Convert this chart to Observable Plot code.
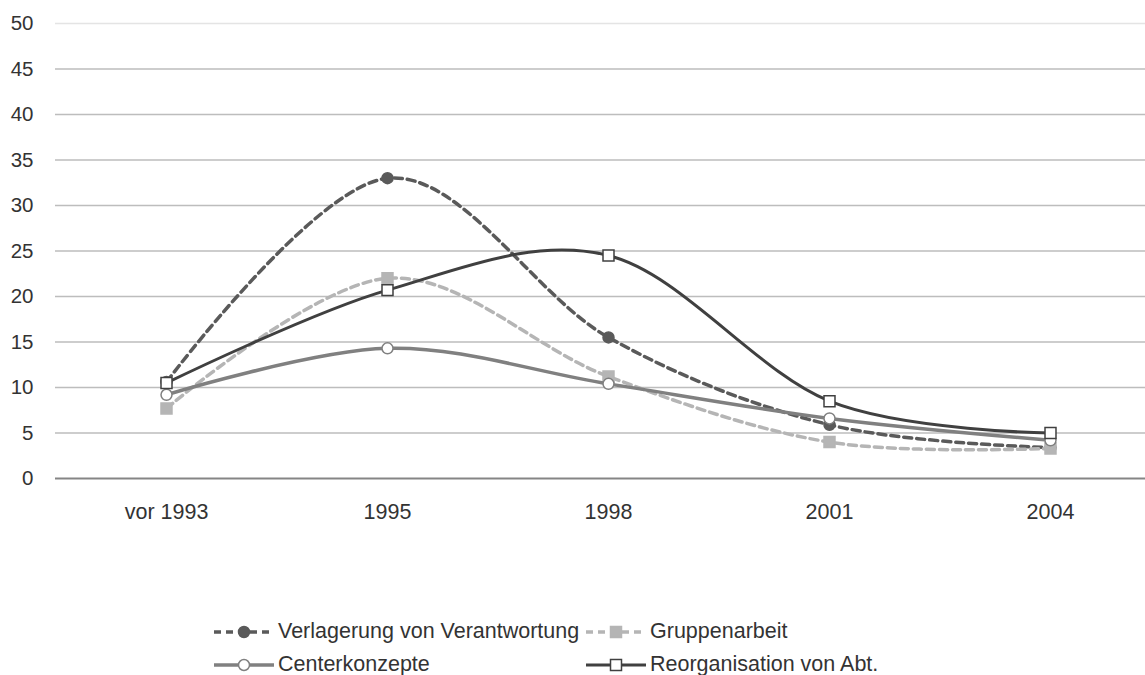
<!DOCTYPE html>
<html>
<head>
<meta charset="utf-8">
<script src="https://cdn.jsdelivr.net/npm/d3@7"></script>
<script src="https://cdn.jsdelivr.net/npm/@observablehq/plot@0.6"></script>
<style>
  html, body { margin: 0; padding: 0; background: #fff; }
  body { font-family: "Liberation Sans", Arial, sans-serif; }
  #wrap { position: relative; width: 1145px; height: 675px; overflow: hidden; }
  #legend { position: absolute; left: 213px; top: 615px; display: grid;
    grid-template-columns: 372px auto; grid-auto-rows: 33px; font-size: 21.5px; color: #333; }
  .item { display: flex; align-items: center; white-space: nowrap; }
  .item svg { margin-right: 3px; flex: none; }
</style>
</head>
<body>
<div id="wrap"><div id="chart"></div><div id="legend"></div></div>
<script>
const categories = ["vor 1993", "1995", "1998", "2001", "2004"];
const seriesNames = ["Verlagerung von Verantwortung", "Gruppenarbeit", "Centerkonzepte", "Reorganisation von Abt."];
const verlagerung = [10.6, 33.0, 15.5, 5.9, 3.4];
const gruppenarbeit = [7.7, 22.0, 11.2, 4.0, 3.3];
const centerkonzepte = [9.2, 14.3, 10.4, 6.6, 4.2];
const reorganisation = [10.5, 20.7, 24.5, 8.5, 5.0];
const yTicks = [0, 5, 10, 15, 20, 25, 30, 35, 40, 45, 50];

const styles = [
  {color: "#5a5a5a", dash: "8,5", width: 3.5, symbol: "circle", fill: "#5a5a5a", stroke: "#5a5a5a", r: 5.5},
  {color: "#b5b5b5", dash: "8,5", width: 3.5, symbol: "square", fill: "#b5b5b5", stroke: "#b5b5b5", r: 6.2},
  {color: "#808080", dash: null, width: 3.5, symbol: "circle", fill: "#fff", stroke: "#808080", r: 5.5},
  {color: "#404040", dash: null, width: 3, symbol: "square", fill: "#fff", stroke: "#404040", r: 6.2}
];
const allValues = [verlagerung, gruppenarbeit, centerkonzepte, reorganisation];
const series = seriesNames.map((name, i) => ({
  name, style: styles[i],
  rows: categories.map((c, j) => ({cat: c, value: allValues[i][j], series: name}))
}));

const marks = [
  Plot.ruleY(yTicks.filter(d => d > 0 && d < 50), {stroke: "#bdbdbd", strokeWidth: 1.5}),
  Plot.ruleY([50], {stroke: "#e4e4e4", strokeWidth: 1.5}),
  Plot.ruleY([0], {stroke: "#858585", strokeWidth: 2}),
  Plot.axisY({ticks: yTicks, tickSize: 0, tickPadding: 22, fontSize: 20.5, color: "#333"}),
  Plot.axisX({tickSize: 0, tickPadding: 25, fontSize: 21.5, color: "#333"})
];
for (const s of series) {
  const st = s.style;
  marks.push(Plot.line(s.rows, {x: "cat", y: "value", curve: "cardinal", stroke: st.color,
    strokeWidth: st.width, strokeDasharray: st.dash || undefined}));
  marks.push(Plot.dot(s.rows, {x: "cat", y: "value", symbol: st.symbol, r: st.r,
    fill: st.fill, stroke: st.stroke, strokeWidth: 1.5}));
}

const chart = Plot.plot({
  width: 1145, height: 540,
  marginLeft: 55, marginRight: 0, marginTop: 23, marginBottom: 62,
  style: {fontFamily: "'Liberation Sans', Arial, sans-serif", fontSize: "21px", color: "#333", background: "#fff"},
  x: {type: "point", domain: categories, range: [165, 1051], padding: 0, label: null},
  y: {domain: [0, 50], label: null},
  marks
});
document.getElementById("chart").appendChild(chart);

// Legend
const legend = d3.select("#legend");
for (const s of series) {
  const st = s.style;
  const item = legend.append("div").attr("class", "item");
  const svg = item.append("svg").attr("width", 62).attr("height", 20);
  svg.append("line").attr("x1", 1).attr("x2", 61).attr("y1", 10).attr("y2", 10)
    .attr("stroke", st.color).attr("stroke-width", st.width)
    .attr("stroke-dasharray", st.dash ? "7,5" : null);
  const sym = d3.symbol(st.symbol === "circle" ? d3.symbolCircle : d3.symbolSquare, Math.PI * st.r * st.r);
  svg.append("path").attr("d", sym()).attr("transform", "translate(31,10)")
    .attr("fill", st.fill).attr("stroke", st.stroke).attr("stroke-width", 1.5);
  item.append("span").text(s.name);
}
</script>
</body>
</html>
